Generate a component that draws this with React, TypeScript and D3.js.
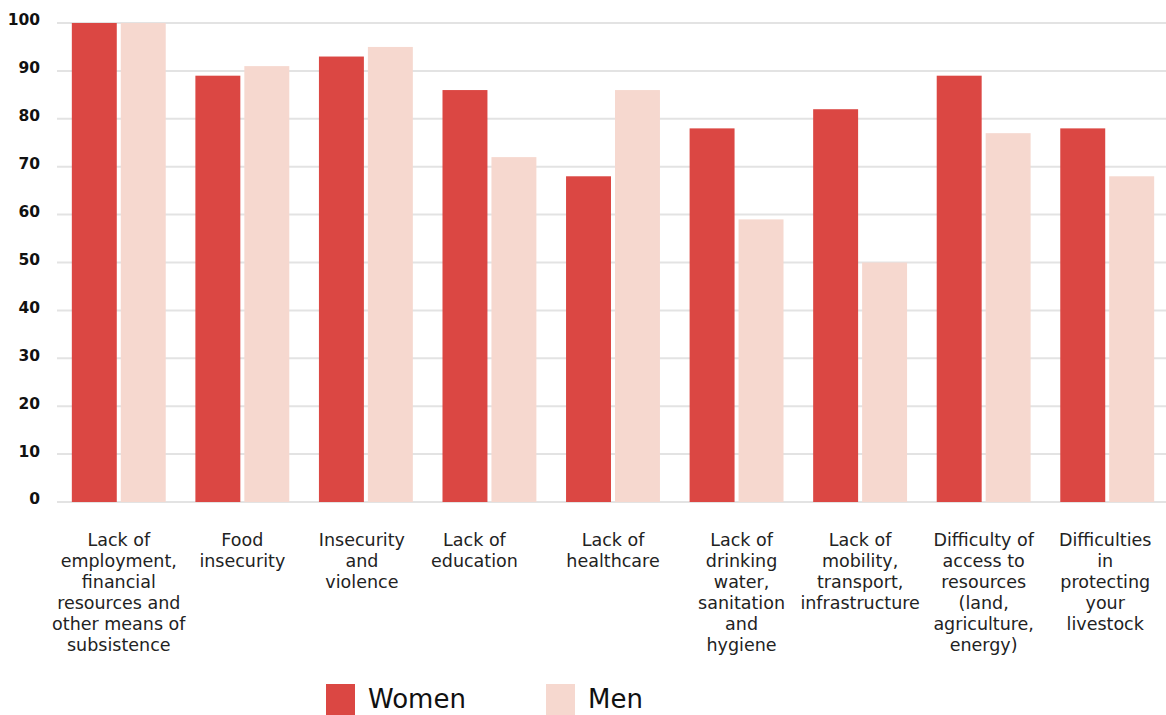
import React from "react";
import * as d3 from "d3";

const categories: string[][] = [
  ["Lack of", "employment,", "financial", "resources and", "other means of", "subsistence"],
  ["Food", "insecurity"],
  ["Insecurity", "and", "violence"],
  ["Lack of", "education"],
  ["Lack of", "healthcare"],
  ["Lack of", "drinking", "water,", "sanitation", "and", "hygiene"],
  ["Lack of", "mobility,", "transport,", "infrastructure"],
  ["Difficulty of", "access to", "resources", "(land,", "agriculture,", "energy)"],
  ["Difficulties", "in", "protecting", "your", "livestock"],
];
const women: number[] = [100, 89, 93, 86, 68, 78, 82, 89, 78];
const men: number[] = [100, 91, 95, 72, 86, 59, 50, 77, 68];
const yTicks: number[] = [0, 10, 20, 30, 40, 50, 60, 70, 80, 90, 100];
const seriesNames = ["Women", "Men"];

const W = 1166;
const H = 715;
const COLORS = ["#DB4743", "#F6D8CF"];
const FONT = "'DejaVu Sans', sans-serif";
// small horizontal nudges for the wrapped category labels
const LABEL_DX = [0, 0, -4, -15, 0, 5, 0, 0, -2];

export default function App() {
  const x = d3
    .scaleBand<number>()
    .domain(d3.range(categories.length))
    .range([57, 1169])
    .paddingInner(0.24)
    .paddingOuter(0.12);
  const y = d3.scaleLinear().domain([0, 100]).range([502, 23]);
  const gap = 4;
  const barW = (x.bandwidth() - gap) / 2;
  const series = [women, men];

  return (
    <svg
      width={W}
      height={H}
      style={{ position: "absolute", left: 0, top: 0, background: "#fff" }}
      fontFamily={FONT}
    >
      {yTicks.map((t) => (
        <g key={t}>
          <line x1={57} x2={W} y1={y(t)} y2={y(t)} stroke="#e3e3e3" strokeWidth={2} />
          <text
            x={40}
            y={y(t) - 3}
            dy="0.35em"
            textAnchor="end"
            fontSize={15.5}
            fontWeight="bold"
            fill="#111"
          >
            {t}
          </text>
        </g>
      ))}
      {categories.map((_, i) =>
        series.map((vals, s) => (
          <rect
            key={`${i}-${s}`}
            x={(x(i) as number) + s * (barW + gap)}
            y={y(vals[i])}
            width={barW}
            height={y(0) - y(vals[i])}
            fill={COLORS[s]}
          />
        ))
      )}
      {categories.map((lines, i) => {
        const cx = (x(i) as number) + x.bandwidth() / 2 + LABEL_DX[i];
        return (
          <text key={i} x={cx} y={546} textAnchor="middle" fontSize={17.5} fill="#222">
            {lines.map((l, k) => (
              <tspan key={k} x={cx} dy={k === 0 ? 0 : 21}>
                {l}
              </tspan>
            ))}
          </text>
        );
      })}
      {seriesNames.map((name, s) => (
        <g key={name} transform={`translate(${326 + s * 220},684)`}>
          <rect width={29} height={31} fill={COLORS[s]} />
          <text x={42} y={24} fontSize={26} fill="#111">
            {name}
          </text>
        </g>
      ))}
    </svg>
  );
}
